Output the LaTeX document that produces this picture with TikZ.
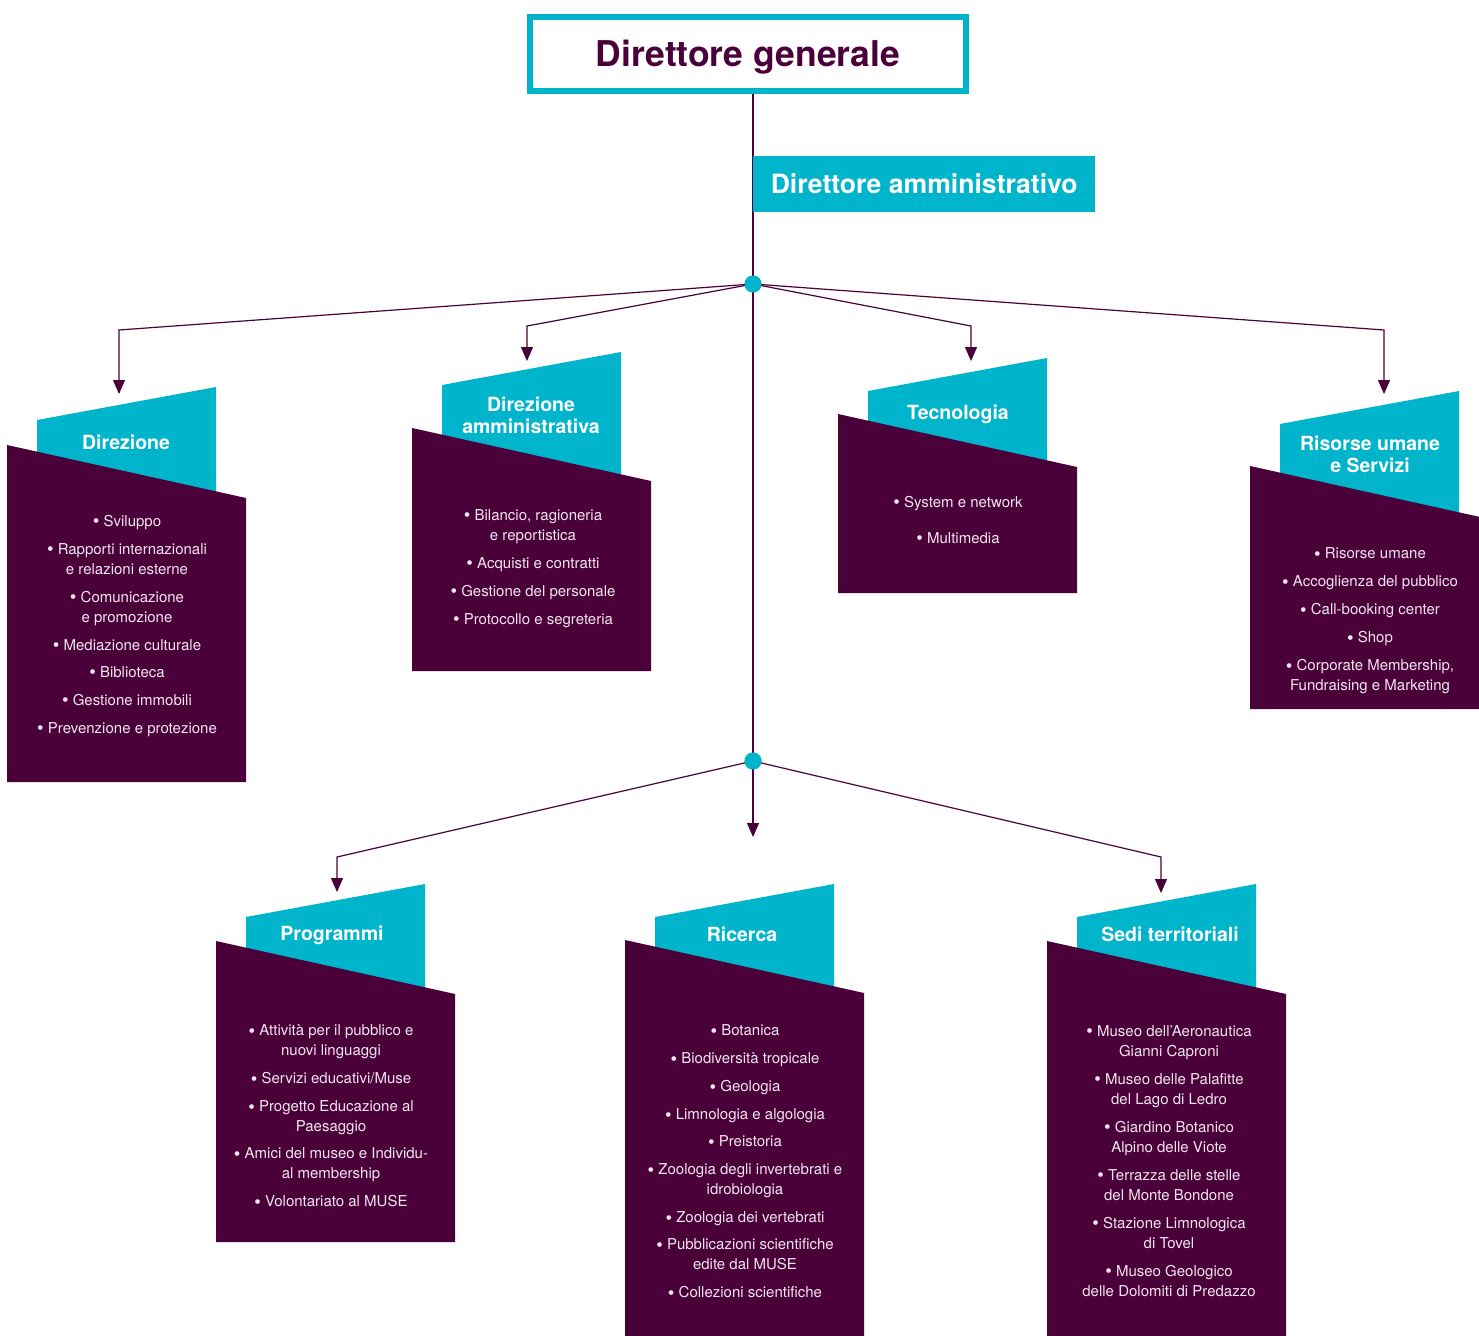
\documentclass[tikz,border=0pt]{standalone}
\usepackage{fontspec}
\setmainfont{TeX Gyre Heros}
\usetikzlibrary{arrows.meta}
\definecolor{mpurple}{RGB}{74,0,57}
\definecolor{mcyan}{RGB}{0,181,203}
\definecolor{itemtxt}{RGB}{242,230,238}
\newcommand{\deptshape}[4]{%
  \fill[mcyan] ({#1+30},{#4}) -- ({#1+209},{#4-33}) -- ({#1+209},{#2+60}) -- ({#1+30},{#2+60}) -- cycle;
  \fill[mpurple] ({#1},{#2}) -- ({#1+239},{#2+53}) -- ({#1+239},{#3}) -- ({#1},{#3}) -- cycle;}
\newcommand{\bul}{\raisebox{-1.2pt}{\scalebox{1.25}{•}}\ }
\begin{document}
\begin{tikzpicture}[x=1pt,y=-1pt,
  conn/.style={draw=mpurple,line width=1.2pt},
  arr/.style={conn,-{Triangle[width=12pt,length=14pt]}},
  dot/.style={circle,fill=mcyan,minimum size=17pt,inner sep=0pt},
  dtitle/.style={text=white,font=\fontsize{19.5}{22}\selectfont\bfseries,align=center,inner sep=0pt},
  items/.style={text=itemtxt,font=\fontsize{15}{20}\selectfont,align=center,inner sep=0pt}]
\useasboundingbox (0,0) rectangle (1479,1335);
\clip (0,0) rectangle (1479,1335);

% top boxes
\node[draw=mcyan,line width=5.5pt,minimum width=436pt,minimum height=74pt,inner sep=0pt,
  text height=30pt,text depth=4pt,
  text=mpurple,font=\fontsize{35.5}{40}\selectfont\bfseries] (dg) at (748,54) {Direttore generale};

\node[dot] (d1) at (753,284) {};
\node[dot] (d2) at (753,761) {};

% coordinates for connectors
\coordinate (b1) at (119,330);  \coordinate (in1) at (119,394);
\coordinate (b2) at (527,326);  \coordinate (in2) at (527,361);
\coordinate (b3) at (971,326);  \coordinate (in3) at (971,361);
\coordinate (b4) at (1384,330); \coordinate (in4) at (1384,394);
\coordinate (b5) at (337,857);  \coordinate (in5) at (337,892);
\coordinate (in6) at (753,837);
\coordinate (b7) at (1161,857); \coordinate (in7) at (1161,893);

\draw[conn] (d1 |- dg.south) -- (d1.center) -- (d2.center);
\draw[arr] (d1.center) -- (b1) -- (in1);
\draw[arr] (d1.center) -- (b2) -- (in2);
\draw[arr] (d1.center) -- (b3) -- (in3);
\draw[arr] (d1.center) -- (b4) -- (in4);
\draw[arr] (d2.center) -- (b5) -- (in5);
\draw[arr] (d2.center) -- (in6);
\draw[arr] (d2.center) -- (b7) -- (in7);
\node[dot] at (d1) {};
\node[dot] at (d2) {};

\node[fill=mcyan,minimum width=342pt,minimum height=56pt,inner sep=0pt,anchor=north west,
  text height=21pt,text depth=3pt,
  text=white,font=\fontsize{26.6}{30}\selectfont\bfseries] (da) at (753,156) {Direttore amministrativo};

% department shapes
\deptshape{7}{445}{782}{420}
\deptshape{412}{428}{671}{385}
\deptshape{838}{414}{593}{391}
\deptshape{1250}{466}{709}{424}
\deptshape{216}{941}{1242}{917}
\deptshape{625}{940}{1345}{917}
\deptshape{1047}{941}{1345}{917}

% titles
\node[dtitle] (t1) at (126,442.5) {Direzione};
\node[dtitle] (t2) at (531,415) {Direzione\\amministrativa};
\node[dtitle] (t3) at (958,414) {Tecnologia};
\node[dtitle] (t4) at (1370,454) {Risorse umane\\e Servizi};
\node[dtitle] (t5) at (332,935) {Programmi};
\node[dtitle] (t6) at (742,934) {Ricerca};
\node[dtitle] (t7) at (1170,934) {Sedi territoriali};

% items
\node[items] (i1) at (127,626) {\bul Sviluppo\\[8pt]
\bul Rapporti internazionali\\ e relazioni esterne\\[8pt]
\bul Comunicazione\\ e promozione\\[8pt]
\bul Mediazione culturale\\[7pt]
\bul Biblioteca\\[8pt]
\bul Gestione immobili\\[8pt]
\bul Prevenzione e protezione};

\node[items] (i2) at (533,568.5) {\bul Bilancio, ragioneria\\ e reportistica\\[8pt]
\bul Acquisti e contratti\\[8pt]
\bul Gestione del personale\\[8pt]
\bul Protocollo e segreteria};

\node[items] (i3) at (958,520) {\bul System e network\\[16pt]
\bul Multimedia};

\node[items] (i4) at (1370,621) {\bul Risorse umane\\[8pt]
\bul Accoglienza del pubblico\\[8pt]
\bul Call-booking center\\[8pt]
\bul Shop\\[8pt]
\bul Corporate Membership,\\ Fundraising e Marketing};

\node[items] (i5) at (331,1116.5) {\bul Attività per il pubblico e\\ nuovi linguaggi\\[8pt]
\bul Servizi educativi/Muse\\[8pt]
\bul Progetto Educazione al\\ Paesaggio\\[7pt]
\bul Amici del museo e Individu-\\ al membership\\[8pt]
\bul Volontariato al MUSE};

\node[items] (i6) at (745,1162) {\bul Botanica\\[8pt]
\bul Biodiversità tropicale\\[8pt]
\bul Geologia\\[8pt]
\bul Limnologia e algologia\\[7pt]
\bul Preistoria\\[8pt]
\bul Zoologia degli invertebrati e\\ idrobiologia\\[8pt]
\bul Zoologia dei vertebrati\\[7pt]
\bul Pubblicazioni scientifiche\\ edite dal MUSE\\[8pt]
\bul Collezioni scientifiche};

\node[items] (i7) at (1169,1161) {\bul Museo dell'Aeronautica\\ Gianni Caproni\\[8pt]
\bul Museo delle Palafitte\\ del Lago di Ledro\\[8pt]
\bul Giardino Botanico\\ Alpino delle Viote\\[8pt]
\bul Terrazza delle stelle\\ del Monte Bondone\\[8pt]
\bul Stazione Limnologica\\ di Tovel\\[8pt]
\bul Museo Geologico\\ delle Dolomiti di Predazzo};
\end{tikzpicture}
\end{document}
